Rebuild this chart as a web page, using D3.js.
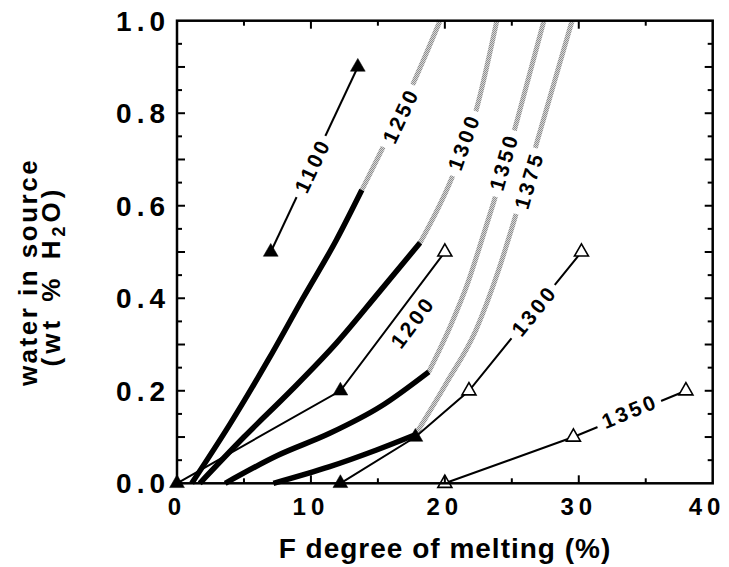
<!DOCTYPE html>
<html><head><meta charset="utf-8">
<script src="https://cdn.jsdelivr.net/npm/d3@7"></script>
<style>body{margin:0;background:#fff}svg{display:block}</style>
</head><body>
<svg id="chart" width="729" height="567"></svg>
<script>
// ---------- data ----------
const xTickLabels = [0, 10, 20, 30, 40];
const yTickLabels = [0.0, 0.2, 0.4, 0.6, 0.8, 1.0];

// isotherms: solid (measured) part and grey (extrapolated) part
const solid1250 = [[1.1,0],[4.0,0.13],[6.8,0.266],[9.4,0.4],[11.9,0.526],[13.8,0.634]];
const gray1250  = [[13.8,0.634],[15.76,0.749],[17.77,0.873],[19.64,1.0]];
const solid1300 = [[1.7,0],[5,0.1],[8.5,0.2],[11.9,0.303],[15,0.41],[18.15,0.52]];
const gray1300  = [[18.15,0.52],[20.52,0.66],[22.38,0.811],[23.88,1.0]];
const solid1350 = [[3.6,0],[7.5,0.06],[11.4,0.108],[15.2,0.166],[18.8,0.241]];
const gray1350  = [[18.8,0.241],[20.4,0.339],[21.7,0.432],[22.8,0.53],[23.9,0.632],[25.4,0.785],[27.4,1.0]];
const solid1375 = [[7.2,0],[11.4,0.036],[14.9,0.072],[17.8,0.105]];
const gray1375  = [[17.8,0.105],[20.1,0.216],[22.3,0.33],[24.0,0.46],[25.4,0.59],[27.2,0.77],[29.5,1.0]];

// experimental runs (thin lines with triangles); f = filled, o = open
const run1100 = [[7,0.5],[13.5,0.9]];
const run1100Marks = ["f","f"];
const run1200 = [[0,0],[12.2,0.2],[20,0.5]];
const run1200Marks = ["f","f","o"];
const run1300 = [[12.2,0],[17.8,0.1],[21.8,0.2],[30.2,0.5]];
const run1300Marks = ["f","f","o","o"];
const run1350 = [[20,0],[29.6,0.1],[38,0.2]];
const run1350Marks = ["o","o","o"];

// labels: text, position, and the segment that sets its direction
const labelText = ["1100","1250","1300","1350","1375","1200","1300","1350"];
const labelPos  = [[10.06,0.684],[16.65,0.792],[21.38,0.735],[24.37,0.692],[26.24,0.652],[17.53,0.346],[26.6,0.371],[33.7,0.155]];
const labelSeg  = [[[7,0.5],[13.5,0.9]],[[15.76,0.749],[17.77,0.873]],[[20.52,0.66],[22.38,0.811]],
                   [[23.9,0.632],[25.4,0.785]],[[25.4,0.59],[27.2,0.77]],[[12.2,0.2],[20,0.5]],
                   [[21.8,0.2],[30.2,0.5]],[[29.6,0.1],[38,0.2]]];

// ---------- drawing ----------
const L = 177, R = 712.7, T = 20.7, B = 483.3;
const x = d3.scaleLinear().domain([0,40]).range([L,R]);
const y = d3.scaleLinear().domain([0,1]).range([B,T]);
const svg = d3.select("#chart");
const FONT = "'Liberation Sans', Arial, Helvetica, sans-serif";

const defs = svg.append("defs");
const pat = defs.append("pattern").attr("id","stip").attr("patternUnits","userSpaceOnUse")
  .attr("width",2).attr("height",2);
pat.append("rect").attr("width",2).attr("height",2).attr("fill","#d8d8d8");
pat.append("rect").attr("width",1).attr("height",1).attr("fill","#8e8e8e");
pat.append("rect").attr("x",1).attr("y",1).attr("width",1).attr("height",1).attr("fill","#8e8e8e");

const line = d3.line().x(d => x(d[0])).y(d => y(d[1])).curve(d3.curveMonotoneX);
const straight = d3.line().x(d => x(d[0])).y(d => y(d[1]));

[gray1250, gray1300, gray1350, gray1375].forEach(g => {
  svg.append("path").attr("d", line(g)).attr("fill","none")
    .attr("stroke","url(#stip)").attr("stroke-width",5);
});
[solid1250, solid1300, solid1350, solid1375].forEach(s => {
  svg.append("path").attr("d", line(s)).attr("fill","none")
    .attr("stroke","#000").attr("stroke-width",5.5).attr("stroke-linecap","butt");
});
const runs = [[run1100,run1100Marks],[run1200,run1200Marks],[run1300,run1300Marks],[run1350,run1350Marks]];
runs.forEach(([r]) => {
  svg.append("path").attr("d", straight(r)).attr("fill","none")
    .attr("stroke","#000").attr("stroke-width",2);
});

// labels with knockout
labelText.forEach((t,i) => {
  const [a,b] = labelSeg[i];
  const ang = Math.atan2(y(b[1])-y(a[1]), x(b[0])-x(a[0])) * 180/Math.PI;
  const g = svg.append("g").attr("transform",`translate(${x(labelPos[i][0])},${y(labelPos[i][1])}) rotate(${ang})`);
  const rect = g.append("rect").attr("fill","#fff");
  const tx = g.append("text").text(t).attr("text-anchor","middle").attr("dy","0.36em").attr("dx",1.5)
    .attr("font-family",FONT).attr("font-weight","bold").attr("font-size",21)
    .attr("letter-spacing",3).attr("fill","#000");
  const w = tx.node().getComputedTextLength() + 10;
  rect.attr("x",-w/2).attr("y",-7).attr("width",w).attr("height",14);
});

// markers
const tri = d3.symbol().type(d3.symbolTriangle);
runs.forEach(([r,m]) => {
  r.forEach((p,i) => {
    svg.append("path").attr("d", tri.size(m[i]==="f" ? 95 : 85)())
      .attr("transform",`translate(${x(p[0])},${y(p[1])})`)
      .attr("fill", m[i]==="f" ? "#000" : "#fff")
      .attr("stroke","#000").attr("stroke-width", m[i]==="f" ? 0.5 : 1.6);
  });
});

// frame and ticks
svg.append("rect").attr("x",L).attr("y",T).attr("width",R-L).attr("height",B-T)
  .attr("fill","none").attr("stroke","#000").attr("stroke-width",2.5);
const tk = svg.append("g").attr("stroke","#000").attr("stroke-width",2);
d3.range(5,40,5).forEach(v => {
  const len = v % 10 === 0 ? 8 : 5;
  tk.append("line").attr("x1",x(v)).attr("x2",x(v)).attr("y1",B).attr("y2",B-len);
  tk.append("line").attr("x1",x(v)).attr("x2",x(v)).attr("y1",T).attr("y2",T+len);
});
d3.range(1,20).forEach(k => {
  const v = k*0.05;
  const len = k % 2 === 0 ? 8 : 5;
  tk.append("line").attr("x1",L).attr("x2",L+len).attr("y1",y(v)).attr("y2",y(v));
  tk.append("line").attr("x1",R).attr("x2",R-len).attr("y1",y(v)).attr("y2",y(v));
});

// tick labels
svg.append("g").selectAll("text").data(xTickLabels).join("text")
  .attr("x", d => Math.min(x(d), 707)).attr("y", 515).attr("text-anchor","middle")
  .attr("font-family",FONT).attr("font-weight","bold").attr("font-size",24)
  .attr("letter-spacing",5).text(d => d);
svg.append("g").selectAll("text").data(yTickLabels).join("text")
  .attr("x", 170).attr("y", d => y(d)).attr("dy","0.36em").attr("text-anchor","end")
  .attr("font-family",FONT).attr("font-weight","bold").attr("font-size",28)
  .attr("letter-spacing",5).text(d => d.toFixed(1));

// axis titles
svg.append("text").attr("x", 445).attr("y", 558).attr("text-anchor","middle")
  .attr("font-family",FONT).attr("font-weight","bold").attr("font-size",28)
  .attr("letter-spacing",1).text("F degree of melting (%)");
const yt = svg.append("g").attr("transform","translate(0,272) rotate(-90)");
yt.append("text").attr("x",0).attr("y",37).attr("text-anchor","middle")
  .attr("font-family",FONT).attr("font-weight","bold").attr("font-size",26)
  .attr("letter-spacing",2.5).text("water in source");
const t2 = yt.append("text").attr("x",-4).attr("y",60).attr("text-anchor","middle")
  .attr("font-family",FONT).attr("font-weight","bold").attr("font-size",26)
  .attr("letter-spacing",4).attr("word-spacing",4);
t2.append("tspan").text("(wt % H");
t2.append("tspan").attr("font-size",18).attr("dy",5).text("2");
t2.append("tspan").attr("dy",-5).text("O)");
</script>
</body></html>
